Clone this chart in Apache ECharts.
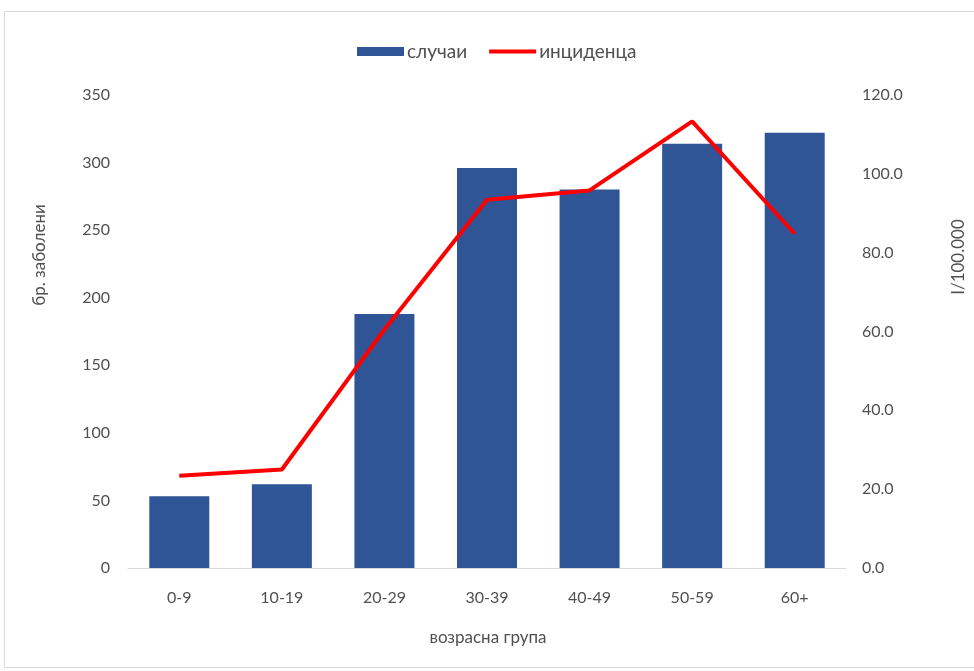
<!DOCTYPE html>
<html>
<head>
<meta charset="utf-8">
<script src="https://cdn.jsdelivr.net/npm/echarts@6/dist/echarts.min.js"></script>
<style>
  html, body { margin: 0; padding: 0; background: #fff; }
  #main { width: 974px; height: 671px; }
</style>
</head>
<body>
<div id="main"></div>
<script>
// age groups
const categories = ['0-9', '10-19', '20-29', '30-39', '40-49', '50-59', '60+']
// number of cases (left axis)
const cases = [53, 62, 188, 296, 280, 314, 322]
// incidence per 100.000 (right axis)
const incidence = [23.4, 25.0, 60.5, 93.4, 95.8, 113.3, 84.8]

const fontFamily = 'Lato, "Noto Sans", sans-serif'
const labelColor = '#505050'

const chart = echarts.init(document.getElementById('main'))
const option = {
  animation: false,
  textStyle: { fontFamily: fontFamily },
  legend: {
    top: 37,
    left: 352,
    itemWidth: 47,
    itemHeight: 9,
    itemGap: 22,
    textStyle: { fontSize: 19, color: labelColor, fontFamily: fontFamily, padding: [0, 0, 0, -2] },
    data: [
      { name: 'случаи', icon: 'rect' },
      { name: 'инциденца', icon: 'path://M0,0L50,0L50,4.5L0,4.5Z' }
    ]
  },
  grid: {
    left: 128,
    right: 128,
    top: 95,
    bottom: 103
  },
  xAxis: {
    type: 'category',
    data: categories,
    axisTick: { show: false },
    axisLine: { lineStyle: { color: '#d9d9d9', width: 1 } },
    axisLabel: { color: labelColor, fontSize: 16, margin: 22 }
  },
  yAxis: [
    {
      type: 'value',
      min: 0,
      max: 350,
      interval: 50,
      splitLine: { show: false },
      axisLine: { show: false },
      axisTick: { show: false },
      axisLabel: { color: labelColor, fontSize: 16, margin: 18 }
    },
    {
      type: 'value',
      min: 0,
      max: 120,
      interval: 20,
      splitLine: { show: false },
      axisLine: { show: false },
      axisTick: { show: false },
      axisLabel: {
        color: labelColor,
        fontSize: 16,
        margin: 16,
        formatter: function (v) { return v.toFixed(1) }
      }
    }
  ],
  graphic: [
    {
      type: 'rect',
      shape: { x: 4.5, y: 11.5, width: 970, height: 656 },
      style: { fill: 'none', stroke: '#d9d9d9', lineWidth: 1 },
      silent: true
    },
    {
      type: 'text',
      x: 40,
      y: 255,
      rotation: Math.PI / 2,
      style: {
        text: 'бр. заболени',
        fill: labelColor,
        font: '17px ' + fontFamily,
        align: 'center',
        verticalAlign: 'middle'
      }
    },
    {
      type: 'text',
      x: 959,
      y: 257,
      rotation: Math.PI / 2,
      style: {
        text: 'I/100.000',
        fill: labelColor,
        font: '17px ' + fontFamily,
        align: 'center',
        verticalAlign: 'middle'
      }
    },
    {
      type: 'text',
      x: 488,
      y: 638,
      style: {
        text: 'возрасна група',
        fill: labelColor,
        font: '17px ' + fontFamily,
        align: 'center',
        verticalAlign: 'middle'
      }
    }
  ],
  series: [
    {
      name: 'случаи',
      type: 'bar',
      data: cases,
      yAxisIndex: 0,
      barWidth: 60,
      itemStyle: { color: '#2f5597' }
    },
    {
      name: 'инциденца',
      type: 'line',
      data: incidence,
      yAxisIndex: 1,
      symbol: 'none',
      lineStyle: { color: '#ff0000', width: 4 },
      itemStyle: { color: '#ff0000' }
    }
  ]
}
chart.setOption(option)
</script>
</body>
</html>
